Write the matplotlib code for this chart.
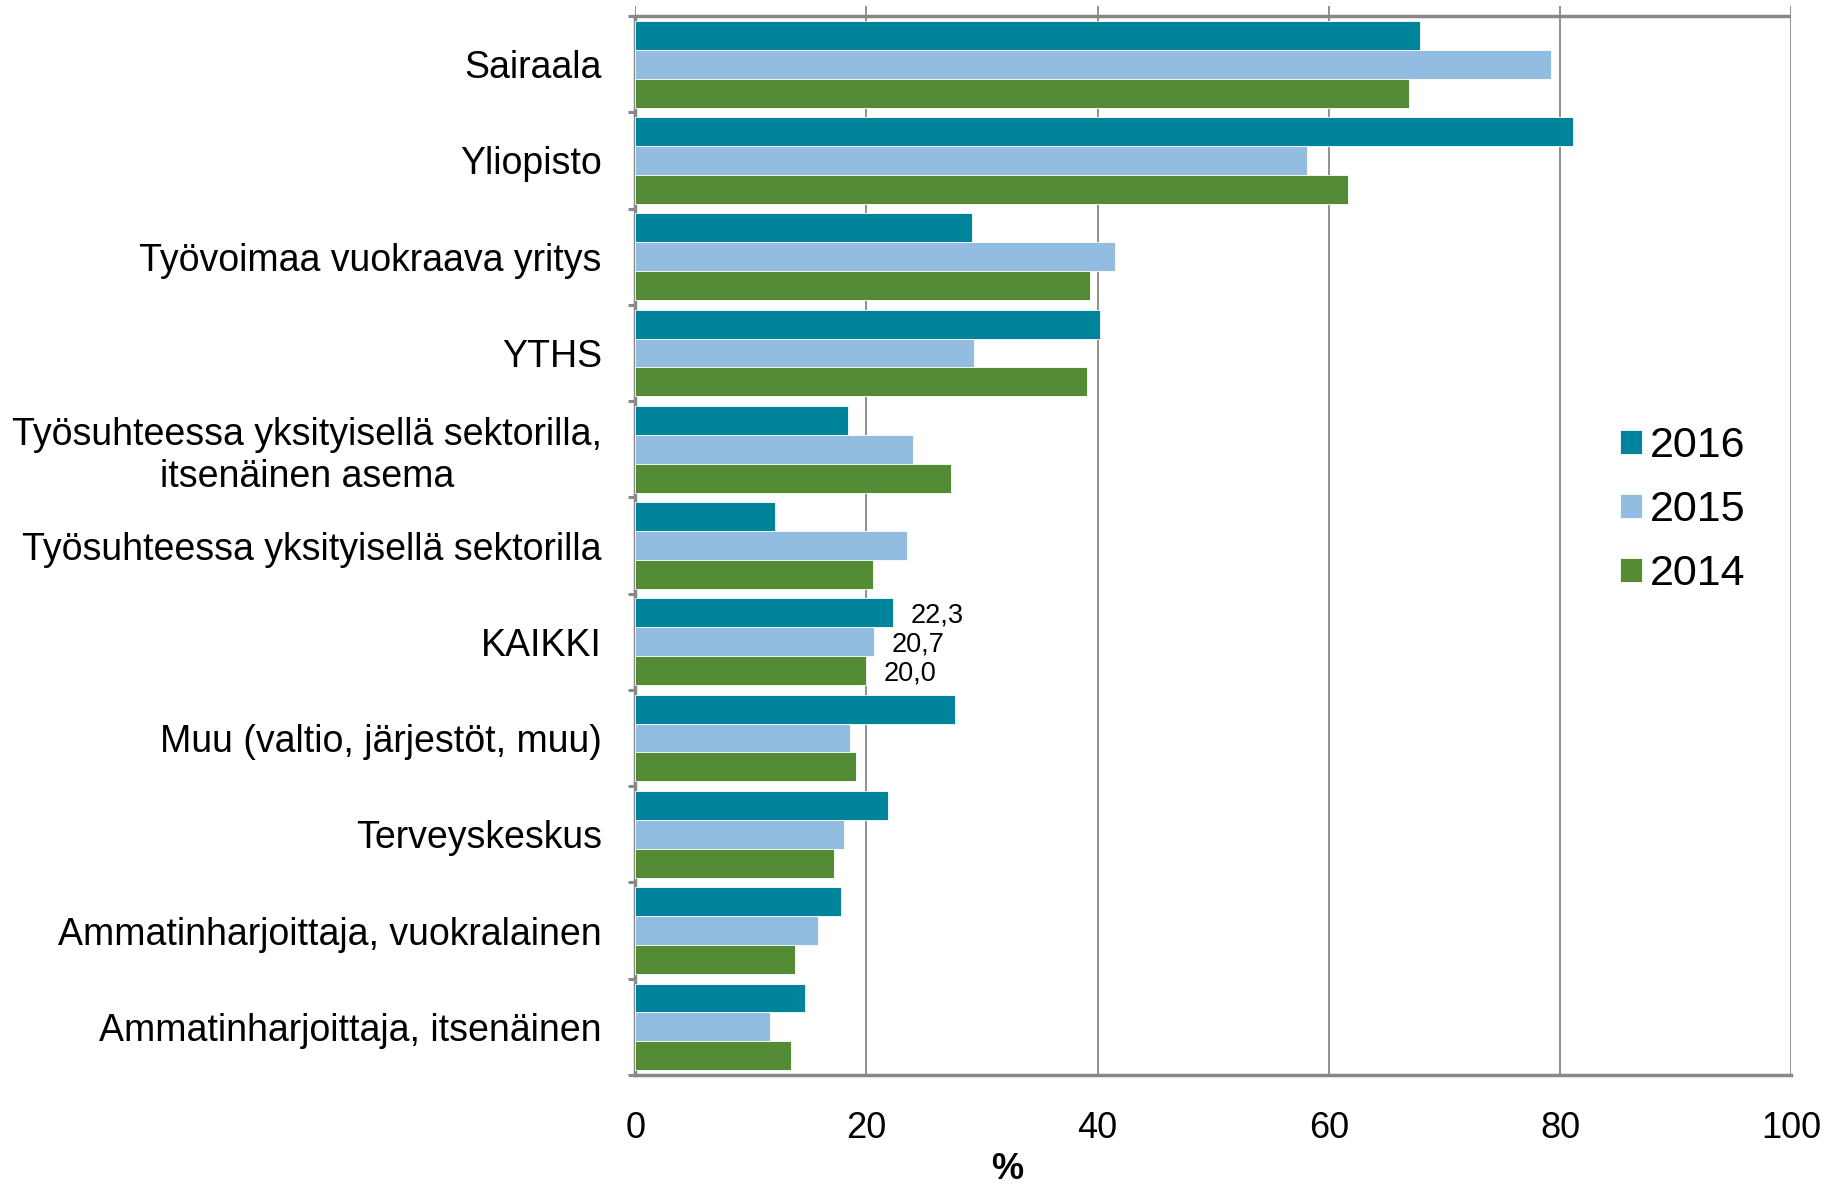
import matplotlib
matplotlib.use('Agg')
import matplotlib.pyplot as plt
from matplotlib.ticker import FixedLocator
import numpy as np

plt.rcParams['font.family'] = ['Liberation Sans', 'DejaVu Sans']

# Data
categories = [
    'Sairaala',
    'Yliopisto',
    'Työvoimaa vuokraava yritys',
    'YTHS',
    'Työsuhteessa yksityisellä sektorilla,\nitsenäinen asema',
    'Työsuhteessa yksityisellä sektorilla',
    'KAIKKI',
    'Muu (valtio, järjestöt, muu)',
    'Terveyskeskus',
    'Ammatinharjoittaja, vuokralainen',
    'Ammatinharjoittaja, itsenäinen',
]
years = ['2016', '2015', '2014']
v2016 = [67.9, 81.1, 29.1, 40.2, 18.4, 12.1, 22.3, 27.7, 21.9, 17.8, 14.7]
v2015 = [79.2, 58.1, 41.5, 29.3, 24.0, 23.5, 20.7, 18.6, 18.1, 15.8, 11.7]
v2014 = [66.9, 61.7, 39.3, 39.1, 27.3, 20.6, 20.0, 19.1, 17.2, 13.8, 13.5]
kaikki_labels = ['22,3', '20,7', '20,0']

colors = ['#00849B', '#93BDE0', '#548B35']
grid_col = '#888888'

fig = plt.figure(figsize=(18.41, 11.84), dpi=100)
ax = fig.add_axes([0.345, 0.0921, 0.628, 0.9028])

y = np.arange(len(categories))
h = 0.3
series = [v2016, v2015, v2014]
for i, (vals, col, lab) in enumerate(zip(series, colors, years)):
    ax.barh(y + (i - 1) * h, vals, height=h, color=col, edgecolor='white',
            linewidth=0.6, label=lab, zorder=3)

# labels for KAIKKI group
k = categories.index('KAIKKI')
for i, (vals, txt) in enumerate(zip(series, kaikki_labels)):
    ax.text(vals[k] + 1.5, y[k] + (i - 1) * h + 0.03, txt, fontsize=19.5,
            va='center', ha='left', zorder=4)

ax.set_xlim(0, 100)
ax.set_ylim(len(categories) - 0.5, -0.604)

ax.set_xticks([0, 20, 40, 60, 80, 100])
ax.tick_params(axis='x', length=0, pad=26, labelsize=26)
ax.xaxis.grid(True, color=grid_col, linewidth=1.3, zorder=0)

ax.set_yticks(y)
ax.set_yticklabels(categories, fontsize=27, linespacing=1.2, multialignment='center')
ax.tick_params(axis='y', which='major', length=0, pad=24)
ax.yaxis.set_minor_locator(FixedLocator(np.arange(-0.5, len(categories), 1.0)))
ax.tick_params(axis='y', which='minor', length=5, width=2.2, color=grid_col)

for s in ['top', 'right']:
    ax.spines[s].set_visible(False)
ax.spines['left'].set_bounds(-0.5, len(categories) - 0.5)
ax.spines['left'].set_color(grid_col)
ax.spines['left'].set_linewidth(2.5)
ax.spines['bottom'].set_color(grid_col)
ax.spines['bottom'].set_linewidth(2.5)
ax.axhline(-0.5, color=grid_col, linewidth=2.5, zorder=4)

ax.set_xlabel('%', fontsize=26, fontweight='bold')
ax.xaxis.set_label_coords(0.322, -0.072)

ax.legend(loc='center left', bbox_to_anchor=(0.859, 0.569), bbox_transform=fig.transFigure,
          frameon=False, fontsize=31, handlelength=0.5, handleheight=0.5,
          handletextpad=0.2, labelspacing=0.56)

fig.savefig('out.png', dpi=100)
